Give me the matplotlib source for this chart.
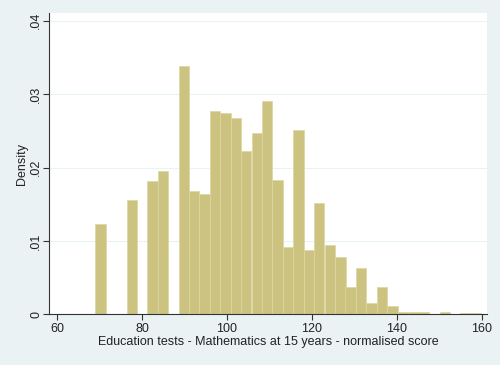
import matplotlib.pyplot as plt

# left edges of the histogram bins (score) and bin width
bin_left = [68.9, 71.4, 73.8, 76.3, 78.7, 81.2, 83.7, 86.1, 88.6, 91.0,
            93.5, 95.9, 98.4, 100.9, 103.3, 105.8, 108.2, 110.7, 113.2, 115.6,
            118.1, 120.5, 123.0, 125.5, 127.9, 130.4, 132.8, 135.3, 137.8, 140.2,
            142.7, 145.1, 147.6, 150.1, 152.5, 155.0, 157.4]
bin_width = 2.46
density = [0.0123, 0, 0, 0.0156, 0, 0.0182, 0.0195, 0, 0.0339, 0.0168,
           0.0164, 0.0277, 0.0275, 0.0267, 0.0223, 0.0247, 0.0291, 0.0183, 0.0092, 0.0251,
           0.0088, 0.0152, 0.0094, 0.0078, 0.0037, 0.0063, 0.0016, 0.0038, 0.0011, 0.0003,
           0.0003, 0.0003, 0, 0.0004, 0, 0.00015, 0.00015]

x_ticks = [60, 80, 100, 120, 140, 160]
y_ticks = [0, 0.01, 0.02, 0.03, 0.04]
y_labels = ['0', '.01', '.02', '.03', '.04']

plt.rcParams['font.family'] = ['Liberation Sans', 'DejaVu Sans']

fig = plt.figure(figsize=(5, 3.65), dpi=100)
fig.patch.set_facecolor('#EAF2F3')
ax = fig.add_axes([0.0986, 0.1384, 0.8748, 0.8268])
ax.set_facecolor('white')

ax.bar(bin_left, density, width=bin_width, align='edge',
       color='#CBC37F', edgecolor='#DDD6A2', linewidth=0.5, zorder=2)

ax.set_xlim(58.1, 161.2)
ax.set_ylim(0, 0.0411)
ax.set_xticks(x_ticks)
ax.set_yticks(y_ticks)
ax.set_yticklabels(y_labels, rotation=90, va='center')
ax.tick_params(axis='both', labelsize=9, length=4, width=0.8,
               color='#333333', labelcolor='#222222')
ax.tick_params(axis='x', pad=2)
ax.tick_params(axis='y', pad=1)
ax.yaxis.grid(True, color='#EAF2F3', linewidth=0.8, zorder=0)
ax.set_axisbelow(True)

for s in ['top', 'right']:
    ax.spines[s].set_visible(False)
for s in ['left', 'bottom']:
    ax.spines[s].set_color('#333333')
    ax.spines[s].set_linewidth(0.8)

ax.set_xlabel('Education tests - Mathematics at 15 years - normalised score',
              fontsize=9, color='#222222', labelpad=1)
ax.set_ylabel('Density', fontsize=9, color='#222222', labelpad=2)

fig.savefig('out.png', dpi=100, facecolor=fig.get_facecolor())
